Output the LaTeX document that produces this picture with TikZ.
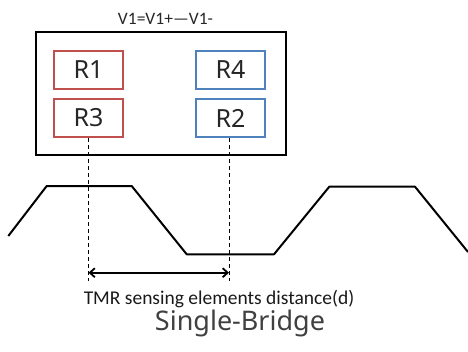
\documentclass[tikz,border=0pt]{standalone}
\usepackage{fontspec}
\setmainfont{Carlito}
\newfontfamily\capfont{Noto Sans}
\usetikzlibrary{arrows.meta}
\definecolor{rred}{HTML}{C0504D}
\definecolor{rblue}{HTML}{4F81BD}
\tikzset{
  rbox/.style={draw, line width=2pt, minimum width=69pt, minimum height=38pt, inner sep=0pt, font=\capfont\fontsize{25}{25}\selectfont, text=black!85},
  redbox/.style={rbox, draw=rred},
  bluebox/.style={rbox, draw=rblue},
  guide/.style={line width=1pt, dash pattern=on 4pt off 3pt},
  wave/.style={line width=2pt, line join=round},
}
\begin{document}
\begin{tikzpicture}[x=1pt,y=-1pt]
\useasboundingbox (0,0) rectangle (468,351);
\node[draw, line width=2.6pt, minimum width=250pt, minimum height=123pt, inner sep=0pt] (frame) at (161,93.5) {};
\node[font=\fontsize{17.5}{18}\selectfont, anchor=base, text=black!85] (title) at (165.5,24) {V1=V1+—V1-};
\node[redbox] (R1) at (88.5,69.5) {R1};
\node[redbox] (R3) at (88.5,118) {R3};
\node[bluebox] (R4) at (230.5,69.5) {R4};
\node[bluebox] (R2) at (230.5,118) {R2};
\coordinate (d1) at (88,281);
\coordinate (d2) at (229.5,281);
\draw[guide] (R3.south -| d1) -- (d1);
\draw[guide] (R2.south -| d2) -- (d2);
\draw[wave] (8.3,236) -- (46.7,186) -- (131.7,186) -- (186.7,254.3) -- (274,254.3) -- (329.3,186.7) -- (415,186.7) -- (468,252);
\coordinate (a1) at (88.5,272.7);
\coordinate (a2) at (229,272.7);
\draw[line width=1.8pt, {Straight Barb[length=5pt,width=9pt]}-{Straight Barb[length=5pt,width=9pt]}] (a1) -- (a2);
\node[font=\fontsize{19.5}{20}\selectfont, anchor=base, text=black!90] (dist) at (219,304) {TMR sensing elements distance(d)};
\node[font=\capfont\fontsize{27}{27}\selectfont, anchor=base, text=black!75] (cap) at (240,330) {Single-Bridge};
\end{tikzpicture}
\end{document}
